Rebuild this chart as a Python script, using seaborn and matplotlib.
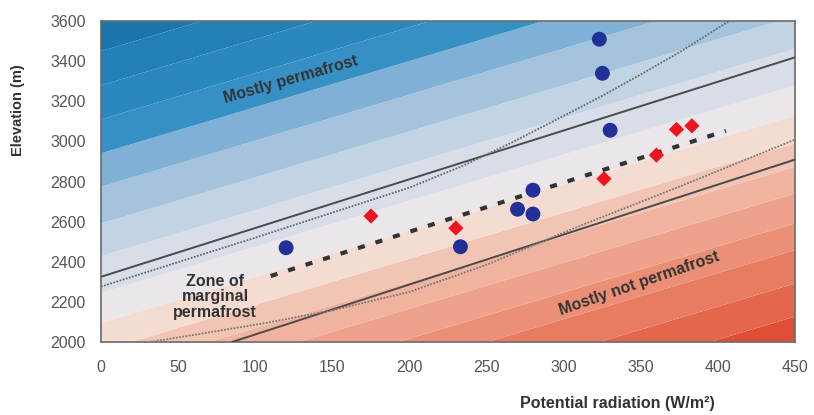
import numpy as np
import matplotlib
matplotlib.use("Agg")
import matplotlib.pyplot as plt
import seaborn as sns

# ---------------- data ----------------
blue_x = [120, 233, 270, 280, 280, 323, 325, 330]
blue_y = [2470, 2475, 2662, 2638, 2757, 3510, 3340, 3056]

red_x = [175, 230, 326, 360, 373, 383]
red_y = [2628, 2568, 2814, 2932, 3060, 3078]

# boundary lines
upper_solid_x = [0, 450]
upper_solid_y = [2325, 3420]
lower_solid_x = [85, 450]
lower_solid_y = [2000, 2910]

fit_x = [110, 405]
fit_y = [2329, 3053]

upper_dot_x = [0, 50, 100, 150, 200, 235, 265, 295, 325, 350, 375, 407]
upper_dot_y = [2276, 2398, 2520, 2645, 2770, 2880, 2990, 3108, 3228, 3335, 3445, 3600]

lower_dot_x = [32, 64, 107, 150, 200, 250, 310, 375, 450]
lower_dot_y = [2000, 2040, 2095, 2158, 2250, 2385, 2578, 2775, 3010]

# background bands: elevation offset (y - slope*x) boundaries and colours
band_slope = 2.3
band_levels = [900, 1092, 1257, 1424, 1557, 1706, 1839, 1955, 2095, 2245, 2428,
               2591, 2774, 2941, 3110, 3280, 3450, 3700]
band_colors = ["#df4f35", "#e4674d", "#e87c62", "#eb8f76", "#eea28b", "#f0b39f",
               "#f2c4b3", "#f4dcd2", "#eae6ea", "#d9dde8", "#c2d3e3", "#a5c3dc",
               "#7fb0d5", "#3790c4", "#2a88bf", "#2280b7", "#1c76ab"]

x_ticks = [0, 50, 100, 150, 200, 250, 300, 350, 400, 450]
y_ticks = [2000, 2200, 2400, 2600, 2800, 3000, 3200, 3400, 3600]

# ---------------- plot ----------------
sns.set_theme(style="white")
plt.rcParams['font.family'] = ['Liberation Sans', 'DejaVu Sans']

fig = plt.figure(figsize=(8.14, 4.15), dpi=100)
ax = fig.add_axes([0.124, 0.176, 0.853, 0.773])

gx = np.linspace(0, 450, 400)
gy = np.linspace(2000, 3600, 400)
GX, GY = np.meshgrid(gx, gy)
ax.contourf(GX, GY, GY - band_slope * GX, levels=band_levels, colors=band_colors,
            antialiased=True, zorder=0)

line_col = "#4a4a4a"
sns.lineplot(x=upper_solid_x, y=upper_solid_y, ax=ax, color=line_col, lw=1.4,
             estimator=None, sort=False, zorder=3)
sns.lineplot(x=lower_solid_x, y=lower_solid_y, ax=ax, color=line_col, lw=1.4,
             estimator=None, sort=False, zorder=3)
sns.lineplot(x=upper_dot_x, y=upper_dot_y, ax=ax, color="#6a6a6a", lw=1.3,
             linestyle=(0, (1, 0.8)), estimator=None, sort=False, zorder=3)
sns.lineplot(x=lower_dot_x, y=lower_dot_y, ax=ax, color="#7a7a7a", lw=1.3,
             linestyle=(0, (1, 0.8)), estimator=None, sort=False, zorder=3)
sns.lineplot(x=fit_x, y=fit_y, ax=ax, color="#333333", lw=3.0,
             linestyle=(0, (1.7, 2.7)), estimator=None, sort=False, zorder=4)

sns.scatterplot(x=blue_x, y=blue_y, ax=ax, color="#23309a", marker="o", s=115,
                edgecolor="none", zorder=5)
sns.scatterplot(x=red_x, y=red_y, ax=ax, color="#ee1520", marker="D", s=60,
                edgecolor="none", zorder=5)

ax.set_xlim(0, 450)
ax.set_ylim(2000, 3600)
ax.set_xticks(x_ticks)
ax.set_yticks(y_ticks)
ax.set_xticklabels([str(v) for v in x_ticks])
ax.set_yticklabels([str(v) for v in y_ticks])
ax.tick_params(axis='both', labelsize=11.5, labelcolor="#555555", color="#666666",
               length=4, width=1)
ax.tick_params(axis='x', direction='out', pad=9)
ax.tick_params(axis='y', direction='in', pad=11)

for sp in ax.spines.values():
    sp.set_color("#6a6a6a")
    sp.set_linewidth(1.2)

ax.set_xlabel("Potential radiation (W/m\u00b2)", fontsize=11.5, fontweight='bold',
              color="#333333")
ax.xaxis.set_label_coords(0.744, -0.168)
ax.set_ylabel("Elevation (m)", fontsize=10.5, fontweight='bold', color="#333333")
ax.yaxis.set_label_coords(-0.11, 0.723)

txt_col = "#333333"
ax.text(123, 3306, "Mostly permafrost", rotation=16, ha='center', va='center',
        fontsize=11.5, fontweight='bold', color=txt_col, zorder=6)
ax.text(74, 2226, "Zone of\nmarginal\npermafrost", ha='center', va='center',
        fontsize=11.5, fontweight='bold', color=txt_col, linespacing=1.05, zorder=6)
ax.text(349, 2294, "Mostly not permafrost", rotation=19, ha='center', va='center',
        fontsize=11.5, fontweight='bold', color=txt_col, zorder=6)

fig.savefig("out.png", dpi=100)
